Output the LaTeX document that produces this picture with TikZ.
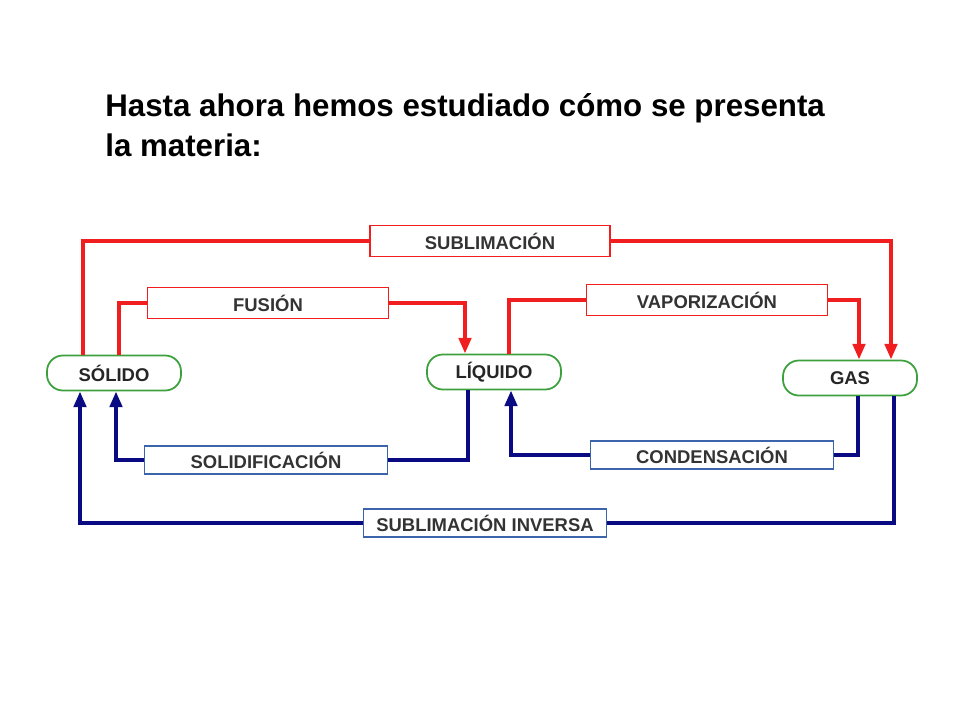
\documentclass[tikz,border=0pt]{standalone}
\usepackage{fontspec}
\setmainfont{Liberation Sans}
\usetikzlibrary{arrows.meta}

\newlength{\pxu}
\setlength{\pxu}{0.02cm}

\definecolor{stred}{RGB}{240,30,30}
\definecolor{stblue}{RGB}{10,10,130}
\definecolor{stgreen}{RGB}{60,160,60}
\definecolor{stboxblue}{RGB}{60,100,170}

\tikzset{
  state/.style={draw=stgreen, line width=1pt, rounded corners=9pt, minimum width=134\pxu, minimum height=35\pxu, font=\fontsize{10.5}{12}\selectfont\bfseries, text=black!85},
  redlbl/.style={draw=stred, line width=0.8pt, fill=white, minimum width=241\pxu, minimum height=31\pxu, font=\fontsize{10.5}{12}\selectfont\bfseries, text=black!80},
  bluelbl/.style={draw=stboxblue, line width=0.8pt, fill=white, minimum width=243\pxu, minimum height=28\pxu, font=\fontsize{10.5}{12}\selectfont\bfseries, text=black!80},
  redln/.style={stred, line width=2.2pt},
  blueln/.style={stblue, line width=2.2pt},
  tip/.style={-{Triangle[length=9pt,width=7pt]}}
}

\begin{document}
\begin{tikzpicture}[x=0.02cm,y=-0.02cm]
  \useasboundingbox (0,0) rectangle (960,720);
  % title
  \node[anchor=west, align=left, inner sep=0pt, font=\fontsize{17.8}{23}\selectfont\bfseries] (title) at (105,125)
    {Hasta ahora hemos estudiado cómo se presenta\\la materia:};
  % states
  \node[state] (sol) at (114,373) {SÓLIDO};
  \node[state] (liq) at (494,372) {LÍQUIDO};
  \node[state] (gas) at (850,378) {GAS};
  % labels
  \node[redlbl, minimum width=240\pxu] (subl) at (490,241) {SUBLIMACIÓN};
  \node[redlbl] (fus) at (268,303) {FUSIÓN};
  \node[redlbl] (vap) at (707,300) {VAPORIZACIÓN};
  \node[bluelbl] (solid) at (266,460) {SOLIDIFICACIÓN};
  \node[bluelbl] (cond) at (712,455) {CONDENSACIÓN};
  \node[bluelbl] (subi) at (485,523) {SUBLIMACIÓN INVERSA};
  % corner columns
  \coordinate (c83) at (83,0);
  \coordinate (c119) at (119,0);
  \coordinate (c465) at (465,0);
  \coordinate (c509) at (509,0);
  \coordinate (c859) at (859,0);
  \coordinate (c891) at (891,0);
  \coordinate (c116) at (116,0);
  \coordinate (c468) at (468,0);
  \coordinate (c511) at (511,0);
  \coordinate (c858) at (858,0);
  \coordinate (c894) at (894,0);
  \coordinate (c80) at (80,0);
  % red connectors
  \draw[redln] (sol.north -| c83) |- (subl.west);
  \draw[redln,tip] (subl.east) -| (gas.north -| c891);
  \draw[redln] (sol.north -| c119) |- (fus.west);
  \draw[redln,tip] (fus.east) -| (liq.north -| c465);
  \draw[redln] (liq.north -| c509) |- (vap.west);
  \draw[redln,tip] (vap.east) -| (gas.north -| c859);
  % blue connectors
  \draw[blueln] (liq.south -| c468) |- (solid.east);
  \draw[blueln,tip] (solid.west) -| (sol.south -| c116);
  \draw[blueln] (gas.south -| c858) |- (cond.east);
  \draw[blueln,tip] (cond.west) -| (liq.south -| c511);
  \draw[blueln] (gas.south -| c894) |- (subi.east);
  \draw[blueln,tip] (subi.west) -| (sol.south -| c80);
\end{tikzpicture}
\end{document}
